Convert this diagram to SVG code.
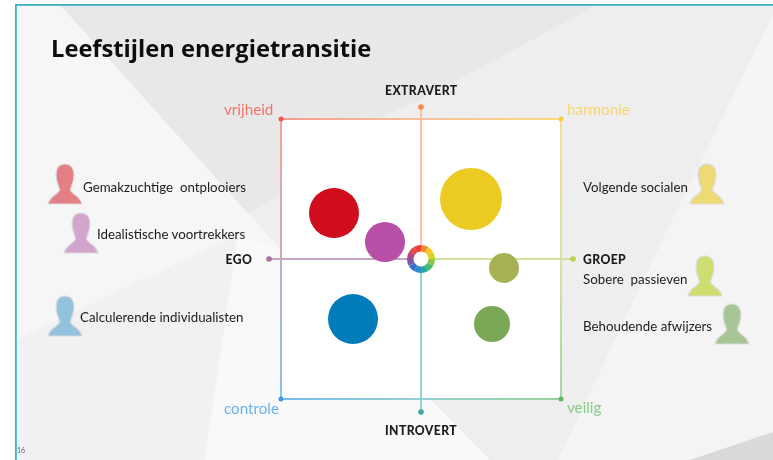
<svg xmlns="http://www.w3.org/2000/svg" xmlns:xlink="http://www.w3.org/1999/xlink" width="773" height="460" viewBox="0 0 773 460">
<style>
.bl{font-family:"Lato","Open Sans",sans-serif;font-size:13.3px;fill:#1c1c1c}
.ax{font-family:"Lato","Open Sans",sans-serif;font-size:12.2px;font-weight:900;fill:#1a1a1a;letter-spacing:.4px}
.cn{font-family:"Lato","Open Sans",sans-serif;font-size:15.2px}
.ln{fill:none;stroke-width:1.800}
.person{stroke:#dcdcdc;stroke-width:1.200}
</style>
<defs>
<filter id="soft" x="0" y="0" width="100%" height="100%"><feGaussianBlur stdDeviation="0.450"/></filter>
<linearGradient id="gTop" gradientUnits="userSpaceOnUse" x1="281" y1="0" x2="561" y2="0"><stop offset="0" stop-color="#f79a90"/><stop offset=".5" stop-color="#f9c19b"/><stop offset="1" stop-color="#f9da80"/></linearGradient>
<linearGradient id="gLeft" gradientUnits="userSpaceOnUse" x1="0" y1="119" x2="0" y2="399"><stop offset="0" stop-color="#f79a90"/><stop offset=".5" stop-color="#bda5c0"/><stop offset="1" stop-color="#7cbcec"/></linearGradient>
<linearGradient id="gRight" gradientUnits="userSpaceOnUse" x1="0" y1="119" x2="0" y2="399"><stop offset="0" stop-color="#f9da80"/><stop offset=".5" stop-color="#d3e09a"/><stop offset="1" stop-color="#9ad29a"/></linearGradient>
<linearGradient id="gBot" gradientUnits="userSpaceOnUse" x1="281" y1="0" x2="561" y2="0"><stop offset="0" stop-color="#7cbcec"/><stop offset=".5" stop-color="#92cfcf"/><stop offset="1" stop-color="#9ad29a"/></linearGradient>
<path id="p" d="M0 0C-6 0-9 4-9 11C-9 18-6 22-5.500 26C-6 30-15 31-17 40L17 40C15 31 6 30 5.500 26C6 22 9 18 9 11C9 4 6 0 0 0Z"/>
</defs>
<g filter="url(#soft)">
<g id="background">
<rect width="773" height="460" fill="#fff"/>
<rect x="15" y="4" width="758" height="456" fill="#eeeeee"/>
<polygon points="60,5 597,5 420,100 281,160 281,194 245,215" fill="#e8e8e8"/>
<polygon points="15,5 60,5 281,250 281,460 15,460" fill="#f6f6f6"/>
<polygon points="15,340 238,234 205,460 15,460" fill="#f1f1f1"/>
<polygon points="238,234 281,250 281,460 205,460" fill="#f9f9f9"/>
<polygon points="281,399 430,399 490,460 205,460 215,399" fill="#f9f9f9"/>
<polygon points="773,15 773,460 558,460 667,230" fill="#f4f4f4"/>
<polygon points="773,432 773,460 690,460" fill="#d9d9d9"/>
<rect x="15" y="4" width="758" height="1.800" fill="#3cb0cc"/>
<rect x="15" y="4" width="1.800" height="456" fill="#3cb0cc"/>
<rect x="281" y="119" width="280" height="280" fill="#fff"/>
</g>

<text id="title" x="51" y="57" font-family="'Open Sans',sans-serif" font-size="23.700px" font-weight="700" fill="#0c0c0c">Leefstijlen energietransitie</text>
<text id="pagenr" x="17" y="453" font-family="Lato,sans-serif" font-size="7px" fill="#666">16</text>

<g id="connectors">
<line class="ln" x1="281" y1="119" x2="561" y2="119" stroke="url(#gTop)"/>
<line class="ln" x1="281" y1="119" x2="281" y2="399" stroke="url(#gLeft)"/>
<line class="ln" x1="561" y1="119" x2="561" y2="399" stroke="url(#gRight)"/>
<line class="ln" x1="281" y1="399" x2="561" y2="399" stroke="url(#gBot)"/>
<line class="ln" x1="421" y1="107" x2="421" y2="259" stroke="#f9c19b"/>
<line class="ln" x1="421" y1="259" x2="421" y2="412" stroke="#8fcfcf"/>
<line class="ln" x1="269" y1="259" x2="421" y2="259" stroke="#c3a5c3"/>
<line class="ln" x1="421" y1="259" x2="573" y2="259" stroke="#d3e09a"/>
<circle cx="281" cy="119" r="2.500" fill="#f4574b"/>
<circle cx="561" cy="119" r="2.500" fill="#f9cb3c"/>
<circle cx="281" cy="399" r="2.500" fill="#3c9ae8"/>
<circle cx="561" cy="399" r="2.500" fill="#5cbb5c"/>
<circle cx="421" cy="107" r="2.800" fill="#f68b4a"/>
<circle cx="421" cy="412" r="2.800" fill="#3aa9a0"/>
<circle cx="269" cy="259" r="2.800" fill="#a470a0"/>
<circle cx="573" cy="259" r="2.800" fill="#bcd24e"/>
</g>

<g id="bubbles">
<circle id="b-gemakzuchtig" cx="334" cy="213" r="25" fill="#cf0a1a"/>
<circle id="b-idealistisch" cx="385" cy="242" r="20" fill="#b84fa6"/>
<circle id="b-volgend" cx="471" cy="199" r="31" fill="#ebca22"/>
<circle id="b-sober" cx="504" cy="268" r="15" fill="#a8b254"/>
<circle id="b-behoudend" cx="492" cy="324" r="18" fill="#7aa857"/>
<circle id="b-calculerend" cx="353" cy="319" r="25" fill="#007cba"/>
</g>

<g id="hub" fill="none" stroke-width="7.200" transform="translate(421 259) scale(.91) translate(-421 -259)">
<circle cx="421" cy="259" r="14" fill="#fff" stroke="none"/>
<path d="M411.500 252.100A11.800 11.800 0 0 1 415.100 248.800" stroke="#e8483c"/>
<path d="M415.100 248.800A11.800 11.800 0 0 1 421 247.200" stroke="#ee3a34"/>
<path d="M421 247.200A11.800 11.800 0 0 1 427 248.800" stroke="#f48a28"/>
<path d="M427 248.800A11.800 11.800 0 0 1 431.200 253" stroke="#f8c920"/>
<path d="M431.200 253A11.800 11.800 0 0 1 432.800 259" stroke="#d6d42c"/>
<path d="M432.800 259A11.800 11.800 0 0 1 431.200 265" stroke="#8cc44a"/>
<path d="M431.200 265A11.800 11.800 0 0 1 427 269.200" stroke="#4cb86c"/>
<path d="M427 269.200A11.800 11.800 0 0 1 421 270.800" stroke="#2aa8a0"/>
<path d="M421 270.800A11.800 11.800 0 0 1 415.100 269.200" stroke="#2a8ed0"/>
<path d="M415.100 269.200A11.800 11.800 0 0 1 410.800 265" stroke="#3a6cc8"/>
<path d="M410.800 265A11.800 11.800 0 0 1 409.200 259" stroke="#7a58b0"/>
<path d="M409.200 259A11.800 11.800 0 0 1 411.500 252.100" stroke="#b84a80"/>
</g>

<g id="axis-labels">
<text class="ax" x="385" y="94.500">EXTRAVERT</text>
<text class="ax" x="385" y="434.500">INTROVERT</text>
<text class="ax" x="225.500" y="263.500">EGO</text>
<text class="ax" x="583" y="263.500">GROEP</text>
</g>
<g id="corner-labels">
<text class="cn" x="224" y="115" fill="#f0746b">vrijheid</text>
<text class="cn" x="567" y="115" fill="#f8d470">harmonie</text>
<text class="cn" x="224" y="414" fill="#6cb2ea">controle</text>
<text class="cn" x="567" y="413" fill="#86cc86">veilig</text>
</g>

<g id="gemakzuchtige"><use href="#p" x="65" y="164" class="person" fill="#e57f86"/><text class="bl" x="83" y="192" xml:space="preserve">Gemakzuchtige  ontplooiers</text></g>
<g id="idealistische"><use href="#p" x="81" y="213" class="person" fill="#d2a4ce"/><text class="bl" x="97" y="239">Idealistische voortrekkers</text></g>
<g id="calculerende"><use href="#p" x="65" y="296" class="person" fill="#93c2de"/><text class="bl" x="80" y="322">Calculerende individualisten</text></g>
<g id="volgende"><use href="#p" x="707" y="164" class="person" fill="#eeda74"/><text class="bl" x="583" y="192">Volgende socialen</text></g>
<g id="sobere"><use href="#p" x="705" y="256" class="person" fill="#cfdc70"/><text class="bl" x="583" y="284" xml:space="preserve">Sobere  passieven</text></g>
<g id="behoudende"><use href="#p" x="732" y="304" class="person" fill="#a8c596"/><text class="bl" x="583" y="331">Behoudende afwijzers</text></g>
</g>
</svg>
